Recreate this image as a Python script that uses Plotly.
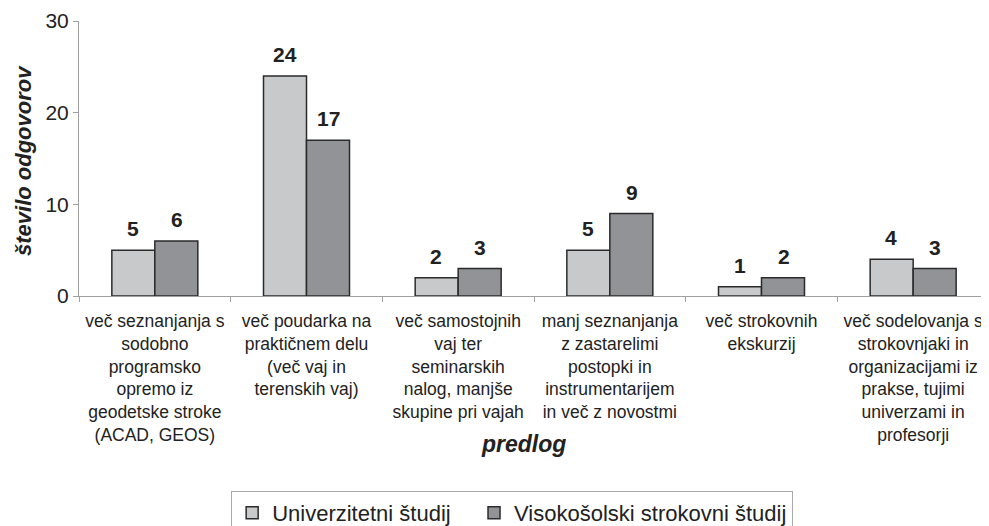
import plotly.graph_objects as go

categories = [
    "več seznanjanja s<br>sodobno<br>programsko<br>opremo iz<br>geodetske stroke<br>(ACAD, GEOS)",
    "več poudarka na<br>praktičnem delu<br>(več vaj in<br>terenskih vaj)",
    "več samostojnih<br>vaj ter<br>seminarskih<br>nalog, manjše<br>skupine pri vajah",
    "manj seznanjanja<br>z zastarelimi<br>postopki in<br>instrumentarijem<br>in več z novostmi",
    "več strokovnih<br>ekskurzij",
    "več sodelovanja s<br>strokovnjaki in<br>organizacijami iz<br>prakse, tujimi<br>univerzami in<br>profesorji",
]
univerzitetni = [5, 24, 2, 5, 1, 4]
visokosolski = [6, 17, 3, 9, 2, 3]
series_names = ["Univerzitetni študij", "Visokošolski strokovni študij"]

FONT = "Arial"
TXT = "#222222"

fig = go.Figure()
fig.add_trace(go.Bar(
    x=categories, y=univerzitetni,
    name=series_names[0] + "\u00a0\u00a0\u00a0",  # a bit more room between legend items
    marker=dict(color="#c8c9cb", line=dict(color="#2b2b2b", width=1.5)),
))
fig.add_trace(go.Bar(
    x=categories, y=visokosolski, name=series_names[1],
    marker=dict(color="#929396", line=dict(color="#2b2b2b", width=1.5)),
))

# value labels above the bars
for vals, shift in [(univerzitetni, -22), (visokosolski, 22)]:
    for c, v in zip(categories, vals):
        fig.add_annotation(x=c, y=v, text=f"<b>{v}</b>", showarrow=False,
                           xshift=shift, yshift=8, yanchor="bottom",
                           font=dict(size=21, color=TXT, family=FONT))

fig.add_annotation(xref="paper", yref="paper", x=0.489, y=-0.538,
                   xanchor="center", yanchor="middle",
                   text="<b><i>predlog</i></b>", showarrow=False,
                   font=dict(size=23, color=TXT, family=FONT))
fig.add_annotation(xref="paper", yref="paper", x=-0.0604, y=0.491,
                   xanchor="center", yanchor="middle",
                   text="<b><i>število odgovorov</i></b>", showarrow=False,
                   textangle=-90, font=dict(size=22, color=TXT, family=FONT))

# the page body adds an 8px offset, so the figure is kept 8px smaller
fig.update_layout(
    width=981, height=518,
    margin=dict(l=71, r=0, t=13, b=230, autoexpand=False),
    paper_bgcolor="white", plot_bgcolor="white",
    font=dict(family=FONT, color=TXT),
    barmode="group", bargap=0.433, bargroupgap=0,
    showlegend=True,
    legend=dict(
        orientation="h", x=0.476, xanchor="center", y=-0.709, yanchor="top",
        font=dict(size=22, color=TXT, family=FONT),
        bordercolor="#aaaaaa", borderwidth=1, itemwidth=30,
        traceorder="normal",
    ),
)
fig.update_xaxes(
    automargin=False,
    showline=True, linecolor="#a0a0a0", linewidth=1,
    ticks="outside", tickson="boundaries", ticklen=5, tickcolor="#a0a0a0",
    ticklabelstandoff=9,
    tickfont=dict(size=17.5, color=TXT, family=FONT), tickangle=0,
)
fig.update_yaxes(
    automargin=False,
    range=[0, 30], tickvals=[0, 10, 20, 30],
    showline=True, linecolor="#a0a0a0", linewidth=1,
    ticks="outside", ticklen=5, tickcolor="#a0a0a0",
    showgrid=False, zeroline=False,
    tickfont=dict(size=21, color=TXT, family=FONT),
)

fig.write_html("out.html")
